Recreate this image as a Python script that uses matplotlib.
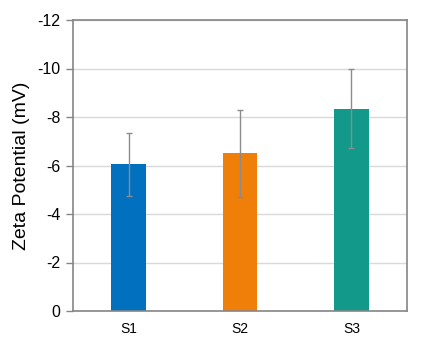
import matplotlib
matplotlib.use("Agg")
import matplotlib.pyplot as plt

samples = ["S1", "S2", "S3"]
zeta_mv = [-6.05, -6.5, -8.35]
zeta_err = [1.3, 1.8, 1.63]
bar_colors = ["#0070BF", "#F07F0A", "#12998A"]
y_ticks = [0, -2, -4, -6, -8, -10, -12]

plt.rcParams["font.family"] = ["Liberation Sans", "DejaVu Sans"]

fig = plt.figure(figsize=(4.25, 3.42), dpi=100)
ax = fig.add_axes([73 / 425, 31 / 342, 334 / 425, 291 / 342])

x = list(range(len(samples)))
ax.bar(x, zeta_mv, width=0.31, color=bar_colors, zorder=2)
ax.errorbar(x, zeta_mv, yerr=zeta_err, fmt="none", ecolor="#8c8c8c",
            elinewidth=1.0, capsize=2.5, capthick=1.0, zorder=3)

ax.set_xlim(-0.5, 2.5)
ax.set_ylim(0, -12)
ax.set_yticks(y_ticks)
ax.set_yticklabels([str(v) for v in y_ticks])
ax.set_xticks(x)
ax.set_xticklabels(samples)

ax.yaxis.grid(True, color="#d9d9d9", linewidth=1.0, zorder=0)
ax.set_axisbelow(True)

for side in ["left", "bottom", "top", "right"]:
    ax.spines[side].set_color("#858585")
    ax.spines[side].set_linewidth(1.2)

ax.tick_params(axis="y", direction="out", length=5, width=1, color="#858585",
               labelsize=11.5, pad=4)
ax.tick_params(axis="x", length=0, labelsize=10, pad=8)

ax.set_ylabel("Zeta Potential (mV)", fontsize=14, labelpad=5)

fig.savefig("out.png", dpi=100)
